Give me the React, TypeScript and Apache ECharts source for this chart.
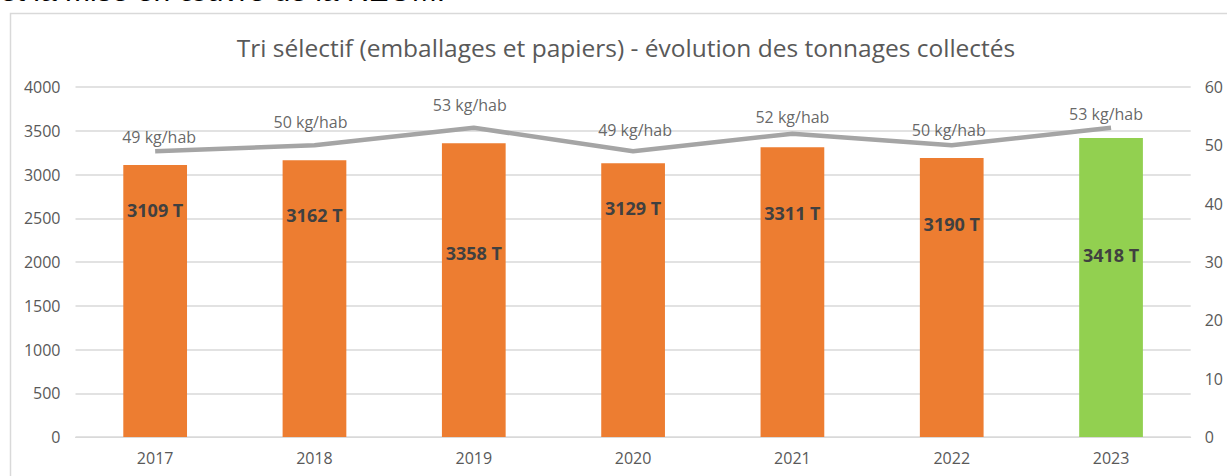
import React, { useEffect, useRef } from "react";
import * as echarts from "echarts";

const years = ["2017", "2018", "2019", "2020", "2021", "2022", "2023"];
const tonnages = [3109, 3162, 3358, 3129, 3311, 3190, 3418];
const kgPerHab = [49, 50, 53, 49, 52, 50, 53];
const barLabelOffsets = [31, 41, 96, 31, 52, 52, 103];
const lineLabelOffsets = [[4, 0], [-4, -9], [-4, -9], [2, -7], [0, -3], [-3, -1], [-5, 0]];
const leftTicks = { min: 0, max: 4000, interval: 500 };
const rightTicks = { min: 0, max: 60, interval: 10 };

const FONT = "'Open Sans', sans-serif";

export default function App() {
  const ref = useRef<HTMLDivElement>(null);
  useEffect(() => {
    if (!ref.current) return;
    const chart = echarts.init(ref.current, undefined, { renderer: "svg" });
    chart.setOption({
      animation: false,
      backgroundColor: "#ffffff",
      textStyle: { fontFamily: FONT },
      grid: { left: 75.5, right: 36.3, top: 87, bottom: 39, containLabel: false },
      graphic: [
        {
          type: "text",
          x: 0,
          y: 5,
          style: {
            text: "et la mise en œuvre de la REOM.",
            font: "30px 'Liberation Sans', Arial, sans-serif",
            fill: "#000000",
            textVerticalAlign: "bottom",
          },
        },
        {
          type: "rect",
          shape: { x: 10.5, y: 13.5, width: 1300, height: 600 },
          style: { fill: "none", stroke: "#D9D9D9", lineWidth: 1.5 },
        },
        {
          type: "text",
          x: 626,
          y: 47,
          style: {
            text: "Tri sélectif (emballages et papiers) - évolution des tonnages collectés",
            font: `24.5px ${FONT}`,
            fill: "#595959",
            textAlign: "center",
            textVerticalAlign: "middle",
          },
        },
      ],
      xAxis: {
        type: "category",
        data: years,
        axisLine: { lineStyle: { color: "#D9D9D9", width: 1 } },
        axisTick: { show: false },
        axisLabel: { color: "#595959", fontSize: 16, margin: 13, fontFamily: FONT },
      },
      yAxis: [
        {
          type: "value",
          ...leftTicks,
          axisLine: { show: false },
          axisTick: { show: false },
          splitLine: { lineStyle: { color: "#D9D9D9", width: 1.5 } },
          axisLabel: {
            color: "#595959",
            fontSize: 16,
            margin: 15,
            fontFamily: FONT,
            formatter: (v: number) => String(v),
          },
        },
        {
          type: "value",
          ...rightTicks,
          axisLine: { show: false },
          axisTick: { show: false },
          splitLine: { show: false },
          axisLabel: {
            color: "#595959",
            fontSize: 16,
            margin: 14,
            fontFamily: FONT,
            formatter: (v: number) => String(v),
          },
        },
      ],
      series: [
        {
          type: "bar",
          yAxisIndex: 0,
          barWidth: "40%",
          data: tonnages.map((v, i) => ({
            value: v,
            itemStyle: { color: i === tonnages.length - 1 ? "#92D050" : "#ED7D31" },
            label: { offset: [0, barLabelOffsets[i]] },
          })),
          label: {
            show: true,
            position: "insideTop",
            formatter: (p: any) => `${p.value} T`,
            color: "#404040",
            fontSize: 18,
            fontWeight: "bold",
            fontFamily: FONT,
          },
        },
        {
          type: "line",
          yAxisIndex: 1,
          data: kgPerHab,
          symbol: "none",
          lineStyle: { color: "#A5A5A5", width: 4.5 },
          z: 3,
        },
        {
          type: "scatter",
          yAxisIndex: 1,
          data: kgPerHab.map((v, i) => ({
            value: v,
            label: { offset: lineLabelOffsets[i] },
          })),
          symbolSize: 0,
          itemStyle: { color: "rgba(0,0,0,0)" },
          label: {
            show: true,
            position: "top",
            distance: 6,
            formatter: (p: any) => `${p.value} kg/hab`,
            color: "#404040",
            fontSize: 16,
            fontFamily: FONT,
          },
          z: 4,
        },
      ],
    });
    return () => chart.dispose();
  }, []);
  return (
    <div
      ref={ref}
      style={{ position: "fixed", left: 0, top: 0, width: 1227, height: 476 }}
    />
  );
}
